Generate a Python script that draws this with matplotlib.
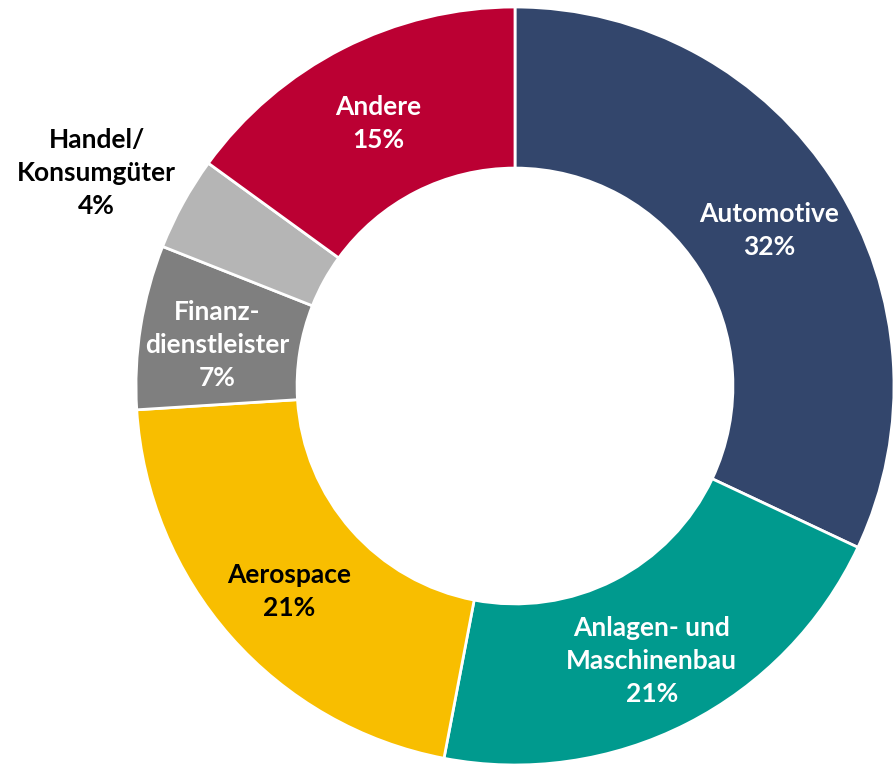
import numpy as np
import matplotlib
matplotlib.use("Agg")
import matplotlib.pyplot as plt

categories = ["Automotive", "Anlagen- und\nMaschinenbau", "Aerospace",
              "Finanz-\ndienstleister", "Handel/\nKonsumgüter", "Andere"]
values = [32, 21, 21, 7, 4, 15]
pct_labels = ["32%", "21%", "21%", "7%", "4%", "15%"]

colors = ["#33466C", "#009A8E", "#F8BE00", "#7F7F7F", "#B5B5B5", "#BB0033"]
text_colors = ["white", "white", "black", "white", "black", "white"]
outside = [False, False, False, False, True, False]

W, H = 894, 768
cx, cy, R = 515, 386, 379
fig = plt.figure(figsize=(W / 100, H / 100), dpi=100)
ax = fig.add_axes([0, 0, 1, 1])

width = 0.425
wedges, _ = ax.pie(values, colors=colors, startangle=90, counterclock=False,
                   radius=1.0, wedgeprops=dict(width=width, edgecolor="white", linewidth=2))
ax.set_xlim(-cx / R, (W - cx) / R)
ax.set_ylim(-(H - cy) / R, cy / R)
ax.axis("off")

font = ["Lato", "DejaVu Sans"]
total = sum(values)
cum = 0
for i, v in enumerate(values):
    mid = (cum + v / 2) / total * 360
    cum += v
    theta = np.deg2rad(90 - mid)
    if outside[i]:
        r = 1.2
        x, y = r * np.cos(theta) - 0.052, r * np.sin(theta) - 0.016
    else:
        r = 0.795
        x, y = r * np.cos(theta), r * np.sin(theta) - 0.017
    ax.text(x, y, categories[i] + "\n" + pct_labels[i], ha="center", va="center",
            color=text_colors[i], fontsize=19, fontweight="bold", family=font,
            linespacing=1.45)

fig.savefig("out.png", dpi=100)
